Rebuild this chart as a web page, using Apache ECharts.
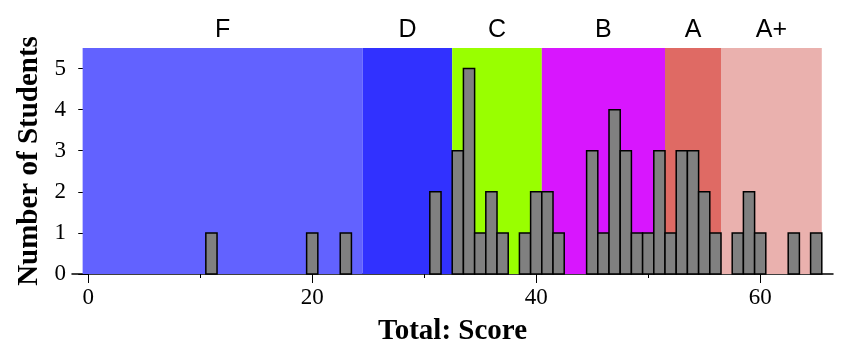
<!DOCTYPE html>
<html>
<head>
<meta charset="utf-8">
<script src="https://cdn.jsdelivr.net/npm/echarts@6/dist/echarts.min.js"></script>
<style>html,body{margin:0;padding:0;background:#fff}#c{width:842px;height:362px}</style>
</head>
<body>
<div id="c"></div>
<script>
// Histogram data (score -> number of students)
const scores = [11, 20, 23, 31, 33, 34, 35, 36, 37, 39, 40, 41, 42, 45, 46, 47, 48, 49, 50, 51, 52, 53, 54, 55, 56, 58, 59, 60, 63, 65];
const counts = [1, 1, 1, 2, 3, 5, 1, 2, 1, 1, 2, 2, 1, 3, 1, 4, 3, 1, 1, 3, 1, 3, 3, 2, 1, 1, 2, 1, 1, 1];

// Grade bands
const gradeNames = ['F', 'D', 'C', 'B', 'A', 'A+'];
const gradeStart = [-0.5, 24.5, 32.5, 40.5, 51.5, 56.5];
const gradeEnd = [24.5, 32.5, 40.5, 51.5, 56.5, 65.5];
const gradeColors = ['#6262ff', '#3131ff', '#99ff00', '#d816fe', '#df6a64', '#eab1ae'];

// Axis ticks
const xMajorTicks = [0, 20, 40, 60];
const xMinorTicks = [10, 30, 50];
const yTicks = [0, 1, 2, 3, 4, 5];

const serif = '"Liberation Serif", "DejaVu Serif", serif';
const chart = echarts.init(document.getElementById('c'));

const histData = scores.map((s, i) => [s, counts[i]]);
const bands = gradeNames.map((n, i) => [
  { name: n, xAxis: gradeStart[i], itemStyle: { color: gradeColors[i], opacity: 1 } },
  { xAxis: gradeEnd[i] }
]);

chart.setOption({
  animation: false,
  grid: { left: 72, right: 9, top: 48, bottom: 88 },
  xAxis: [{
    type: 'value', min: -1.45, max: 66.5,
    splitLine: { show: false },
    axisLine: { lineStyle: { color: '#000', width: 1.5 } },
    axisTick: { customValues: xMajorTicks, length: 9, lineStyle: { color: '#000', width: 1 } },
    axisLabel: { customValues: xMajorTicks, color: '#000', fontFamily: serif, fontSize: 23, margin: 12 },
    name: 'Total: Score', nameLocation: 'middle', nameGap: 43,
    nameTextStyle: { color: '#000', fontFamily: serif, fontSize: 29, fontWeight: 'bold' }
  }, {
    type: 'value', min: -1.45, max: 66.5, position: 'bottom',
    splitLine: { show: false },
    axisLine: { show: false },
    axisTick: { customValues: xMinorTicks, length: 4, lineStyle: { color: '#000', width: 1 } },
    axisLabel: { show: false }
  }],
  yAxis: [{
    type: 'value', min: 0, max: 5.5, interval: 1, offset: -10,
    splitLine: { show: false },
    axisLine: { show: false },
    axisTick: { show: true, customValues: yTicks, length: 10, lineStyle: { color: '#000', width: 1 } },
    axisLabel: { customValues: yTicks, color: '#000', fontFamily: serif, fontSize: 23, margin: 16 },
    name: 'Number of Students', nameLocation: 'middle', nameGap: 38,
    nameTextStyle: { color: '#000', fontFamily: serif, fontSize: 29, fontWeight: 'bold' }
  }, {
    type: 'value', min: 0, max: 5.5, interval: 0.1, offset: -10, position: 'left',
    splitLine: { show: false },
    axisLine: { show: false },
    axisTick: { show: true, length: 5, lineStyle: { color: '#000', width: 1 } },
    axisLabel: { show: false }
  }],
  series: [{
    type: 'line', data: [], z: 1, silent: true,
    markArea: {
      silent: true,
      label: { show: true, position: 'top', distance: 5, color: '#000', fontFamily: '"Liberation Sans", Arial, sans-serif', fontSize: 25 },
      data: bands
    }
  }, {
    type: 'custom', z: 5,
    data: histData,
    renderItem: function (params, api) {
      const x = api.value(0), y = api.value(1);
      const p0 = api.coord([x - 0.5, y]);
      const p1 = api.coord([x + 0.5, 0]);
      return {
        type: 'rect',
        shape: { x: p0[0], y: p0[1], width: p1[0] - p0[0], height: p1[1] - p0[1] },
        style: { fill: '#808080', stroke: '#000', lineWidth: 1.5 }
      };
    }
  }]
});
</script>
</body>
</html>
